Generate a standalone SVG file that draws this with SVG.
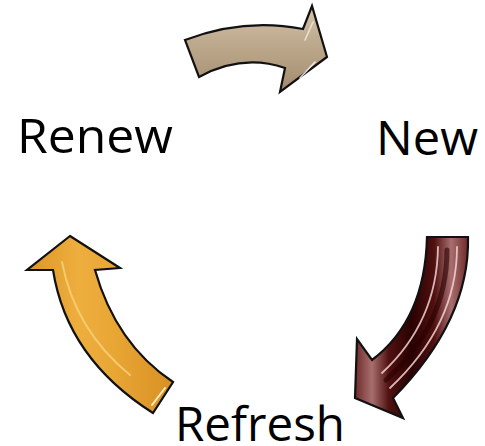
<svg xmlns="http://www.w3.org/2000/svg" width="485" height="446" viewBox="0 0 485 446">
<style>
.lbl{font-family:"Open Sans","Noto Sans","Liberation Sans",sans-serif;font-size:47px;fill:#000}
.arr{stroke:#111;stroke-width:2.2;stroke-linejoin:miter}
.shine{fill:none;stroke-linecap:round}
</style>
<defs>
<linearGradient id="gTan" x1="0" y1="0" x2="0" y2="1">
<stop offset="0" stop-color="#d6c6ae"/>
<stop offset="0.35" stop-color="#c1ad92"/>
<stop offset="0.7" stop-color="#b19c7f"/>
<stop offset="1" stop-color="#a08a6c"/>
</linearGradient>
<linearGradient id="gRed" x1="0" y1="0" x2="1" y2="0">
<stop offset="0" stop-color="#6e2a2a"/>
<stop offset="0.15" stop-color="#a86e6e"/>
<stop offset="0.3" stop-color="#501010"/>
<stop offset="0.5" stop-color="#2a0202"/>
<stop offset="0.7" stop-color="#501010"/>
<stop offset="0.85" stop-color="#a86e6e"/>
<stop offset="1" stop-color="#6e2a2a"/>
</linearGradient>
<linearGradient id="gOr" x1="0" y1="0" x2="1" y2="0">
<stop offset="0" stop-color="#dc9526"/>
<stop offset="0.35" stop-color="#eeae3e"/>
<stop offset="0.6" stop-color="#e8a634"/>
<stop offset="1" stop-color="#d89024"/>
</linearGradient>
</defs>
<g id="arrow-top">
<path class="arr" fill="url(#gTan)" d="M185,40 Q244,17.5 303,29 L312,6 L327,57 L280,92 L285,68 Q242,53.5 199,77 Z"/>
<path class="shine" stroke="#f4ece0" stroke-width="1.6" opacity="0.8" d="M305,40 L313,22"/>
<path class="shine" stroke="#fff" stroke-width="1.6" opacity="0.8" d="M300,78 L315,62"/>
</g>
<g id="arrow-right">
<path class="arr" fill="url(#gRed)" d="M427,237 L468,237 Q470,320 393,398 L403,418 L355,398 L357,339 L372,360 Q425,320 427,237 Z"/>
<path class="shine" stroke="#f2d2d2" stroke-width="1.8" opacity="0.85" d="M438,247 Q437,322 382,373"/>
<path class="shine" stroke="#f2d2d2" stroke-width="1.8" opacity="0.85" d="M457,247 Q457,325 390,388"/>
<path class="shine" stroke="#2a0000" stroke-width="5" opacity="0.6" d="M447,250 Q447,325 386,380"/>
</g>
<g id="arrow-left">
<path class="arr" fill="url(#gOr)" d="M70,236 L120,268 L95,270 Q116,344 173,382 L153,413 Q67,358.5 53,270 L27,270 Z"/>
<path class="shine" stroke="#f8d27a" stroke-width="2" opacity="0.8" d="M62,262 Q75,330 130,375"/>
<path class="shine" stroke="#fff4d0" stroke-width="2" opacity="0.9" d="M152,405 L165,388"/>
</g>
<g id="labels">
<text class="lbl" x="17" y="153" textLength="156" lengthAdjust="spacingAndGlyphs">Renew</text>
<text class="lbl" x="376" y="155" textLength="102" lengthAdjust="spacingAndGlyphs">New</text>
<text class="lbl" x="175" y="441" textLength="170" lengthAdjust="spacingAndGlyphs">Refresh</text>
</g>
</svg>
